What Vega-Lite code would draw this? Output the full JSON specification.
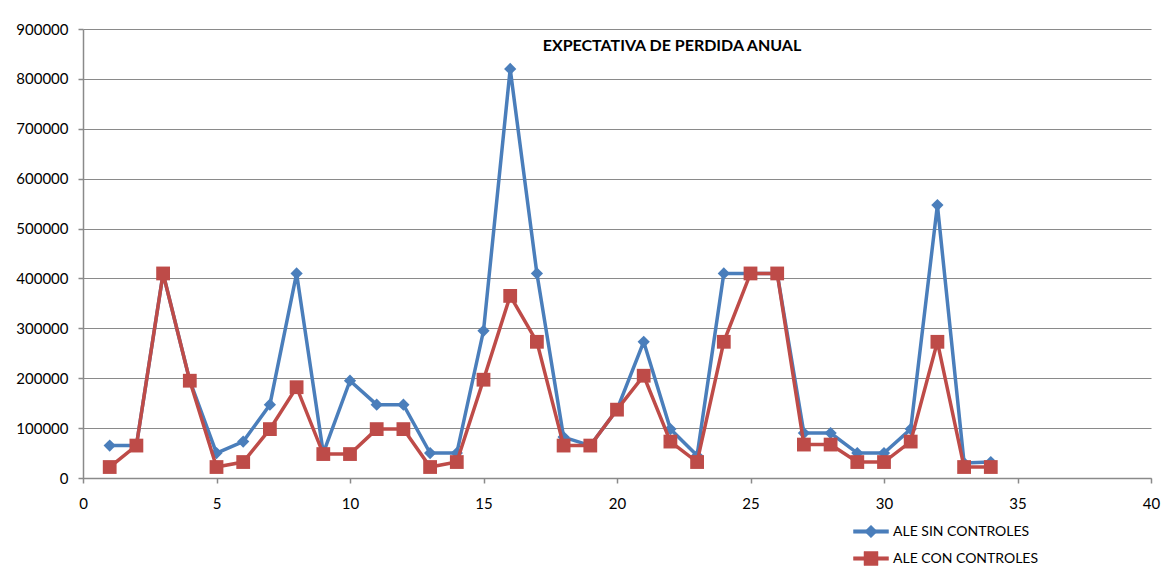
{
  "$schema": "https://vega.github.io/schema/vega-lite/v6.json",
  "width": 1068,
  "height": 449,
  "autosize": {"type": "none"},
  "padding": {"left": 83, "top": 29, "right": 14, "bottom": 108},
  "background": "white",
  "title": {
    "text": "EXPECTATIVA DE PERDIDA ANUAL",
    "font": "Lato",
    "fontSize": 16,
    "fontWeight": "bold",
    "color": "black",
    "anchor": "middle",
    "frame": "group",
    "dx": 55,
    "dy": 36
  },
  "config": {
    "view": {"stroke": null},
    "font": "Lato",
    "axis": {
      "labelFont": "Lato",
      "labelFontSize": 15,
      "labelColor": "black",
      "domainColor": "#8a8a8a",
      "domainWidth": 1.5,
      "tickColor": "#8a8a8a",
      "tickWidth": 1.5,
      "tickSize": 5,
      "gridColor": "#8a8a8a",
      "gridWidth": 1.2,
      "title": null
    }
  },
  "data": {
    "values": [
      {"n": 1, "serie": "ALE SIN CONTROLES", "ale": 65000},
      {"n": 2, "serie": "ALE SIN CONTROLES", "ale": 65000},
      {"n": 3, "serie": "ALE SIN CONTROLES", "ale": 410000},
      {"n": 4, "serie": "ALE SIN CONTROLES", "ale": 195000},
      {"n": 5, "serie": "ALE SIN CONTROLES", "ale": 50000},
      {"n": 6, "serie": "ALE SIN CONTROLES", "ale": 73000},
      {"n": 7, "serie": "ALE SIN CONTROLES", "ale": 147000},
      {"n": 8, "serie": "ALE SIN CONTROLES", "ale": 410000},
      {"n": 9, "serie": "ALE SIN CONTROLES", "ale": 50000},
      {"n": 10, "serie": "ALE SIN CONTROLES", "ale": 195000},
      {"n": 11, "serie": "ALE SIN CONTROLES", "ale": 147000},
      {"n": 12, "serie": "ALE SIN CONTROLES", "ale": 147000},
      {"n": 13, "serie": "ALE SIN CONTROLES", "ale": 50000},
      {"n": 14, "serie": "ALE SIN CONTROLES", "ale": 50000},
      {"n": 15, "serie": "ALE SIN CONTROLES", "ale": 295000},
      {"n": 16, "serie": "ALE SIN CONTROLES", "ale": 820000},
      {"n": 17, "serie": "ALE SIN CONTROLES", "ale": 410000},
      {"n": 18, "serie": "ALE SIN CONTROLES", "ale": 82000},
      {"n": 19, "serie": "ALE SIN CONTROLES", "ale": 65000},
      {"n": 20, "serie": "ALE SIN CONTROLES", "ale": 137000},
      {"n": 21, "serie": "ALE SIN CONTROLES", "ale": 273000},
      {"n": 22, "serie": "ALE SIN CONTROLES", "ale": 98000},
      {"n": 23, "serie": "ALE SIN CONTROLES", "ale": 45000},
      {"n": 24, "serie": "ALE SIN CONTROLES", "ale": 410000},
      {"n": 25, "serie": "ALE SIN CONTROLES", "ale": 410000},
      {"n": 26, "serie": "ALE SIN CONTROLES", "ale": 410000},
      {"n": 27, "serie": "ALE SIN CONTROLES", "ale": 90000},
      {"n": 28, "serie": "ALE SIN CONTROLES", "ale": 90000},
      {"n": 29, "serie": "ALE SIN CONTROLES", "ale": 50000},
      {"n": 30, "serie": "ALE SIN CONTROLES", "ale": 50000},
      {"n": 31, "serie": "ALE SIN CONTROLES", "ale": 98000},
      {"n": 32, "serie": "ALE SIN CONTROLES", "ale": 547000},
      {"n": 33, "serie": "ALE SIN CONTROLES", "ale": 30000},
      {"n": 34, "serie": "ALE SIN CONTROLES", "ale": 32000},
      {"n": 1, "serie": "ALE CON CONTROLES", "ale": 22000},
      {"n": 2, "serie": "ALE CON CONTROLES", "ale": 65000},
      {"n": 3, "serie": "ALE CON CONTROLES", "ale": 410000},
      {"n": 4, "serie": "ALE CON CONTROLES", "ale": 195000},
      {"n": 5, "serie": "ALE CON CONTROLES", "ale": 22000},
      {"n": 6, "serie": "ALE CON CONTROLES", "ale": 32000},
      {"n": 7, "serie": "ALE CON CONTROLES", "ale": 98000},
      {"n": 8, "serie": "ALE CON CONTROLES", "ale": 182000},
      {"n": 9, "serie": "ALE CON CONTROLES", "ale": 48000},
      {"n": 10, "serie": "ALE CON CONTROLES", "ale": 48000},
      {"n": 11, "serie": "ALE CON CONTROLES", "ale": 98000},
      {"n": 12, "serie": "ALE CON CONTROLES", "ale": 98000},
      {"n": 13, "serie": "ALE CON CONTROLES", "ale": 22000},
      {"n": 14, "serie": "ALE CON CONTROLES", "ale": 32000},
      {"n": 15, "serie": "ALE CON CONTROLES", "ale": 197000},
      {"n": 16, "serie": "ALE CON CONTROLES", "ale": 365000},
      {"n": 17, "serie": "ALE CON CONTROLES", "ale": 273000},
      {"n": 18, "serie": "ALE CON CONTROLES", "ale": 65000},
      {"n": 19, "serie": "ALE CON CONTROLES", "ale": 65000},
      {"n": 20, "serie": "ALE CON CONTROLES", "ale": 137000},
      {"n": 21, "serie": "ALE CON CONTROLES", "ale": 205000},
      {"n": 22, "serie": "ALE CON CONTROLES", "ale": 73000},
      {"n": 23, "serie": "ALE CON CONTROLES", "ale": 32000},
      {"n": 24, "serie": "ALE CON CONTROLES", "ale": 273000},
      {"n": 25, "serie": "ALE CON CONTROLES", "ale": 410000},
      {"n": 26, "serie": "ALE CON CONTROLES", "ale": 410000},
      {"n": 27, "serie": "ALE CON CONTROLES", "ale": 67000},
      {"n": 28, "serie": "ALE CON CONTROLES", "ale": 67000},
      {"n": 29, "serie": "ALE CON CONTROLES", "ale": 32000},
      {"n": 30, "serie": "ALE CON CONTROLES", "ale": 32000},
      {"n": 31, "serie": "ALE CON CONTROLES", "ale": 73000},
      {"n": 32, "serie": "ALE CON CONTROLES", "ale": 273000},
      {"n": 33, "serie": "ALE CON CONTROLES", "ale": 22000},
      {"n": 34, "serie": "ALE CON CONTROLES", "ale": 22000}
    ]
  },
  "encoding": {
    "x": {
      "field": "n",
      "type": "quantitative",
      "scale": {"domain": [0, 40], "nice": false},
      "axis": {"values": [0, 5, 10, 15, 20, 25, 30, 35, 40], "grid": false, "labelPadding": 13, "labelFlush": false}
    },
    "y": {
      "field": "ale",
      "type": "quantitative",
      "scale": {"domain": [0, 900000], "nice": false},
      "axis": {"values": [0, 100000, 200000, 300000, 400000, 500000, 600000, 700000, 800000, 900000], "format": "d", "grid": true, "labelPadding": 10}
    },
    "color": {
      "field": "serie",
      "type": "nominal",
      "scale": {"domain": ["ALE SIN CONTROLES", "ALE CON CONTROLES"], "range": ["#4A7EBB", "#BE4B48"]},
      "legend": {
        "title": null,
        "orient": "none",
        "legendX": 770,
        "legendY": 489,
        "padding": 0,
        "symbolSize": 1225,
        "clipHeight": 27,
        "labelFont": "Lato",
        "labelFontSize": 14,
        "labelColor": "black",
        "labelOffset": 4,
        "rowPadding": 0,
        "encode": {
          "symbols": {
            "update": {
              "shape": {"signal": "datum.value === 'ALE SIN CONTROLES' ? 'M-1,-0.1L1,-0.1L1,0.1L-1,0.1Z M0,-0.36L0.36,0L0,0.36L-0.36,0Z' : 'M-1,-0.1L1,-0.1L1,0.1L-1,0.1Z M-0.4,-0.4L0.4,-0.4L0.4,0.4L-0.4,0.4Z'"},
              "fill": {"signal": "datum.value === 'ALE SIN CONTROLES' ? '#4A7EBB' : '#BE4B48'"},
              "fillOpacity": {"value": 1},
              "stroke": {"signal": "datum.value === 'ALE SIN CONTROLES' ? '#4A7EBB' : '#BE4B48'"},
              "strokeWidth": {"value": 0.5}
            }
          }
        }
      }
    }
  },
  "layer": [
    {
      "transform": [{"filter": "datum.serie === 'ALE SIN CONTROLES'"}],
      "mark": {"type": "line", "strokeWidth": 3.5, "point": {"shape": "diamond", "size": 150, "filled": true, "opacity": 1}}
    },
    {
      "transform": [{"filter": "datum.serie === 'ALE CON CONTROLES'"}],
      "mark": {"type": "line", "strokeWidth": 3.5, "point": {"shape": "square", "size": 190, "filled": true, "opacity": 1}}
    }
  ]
}
